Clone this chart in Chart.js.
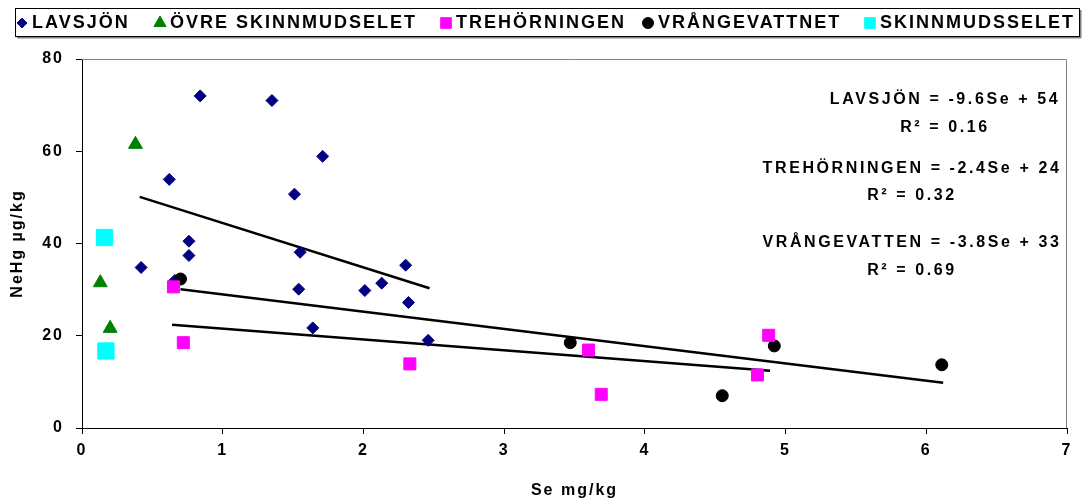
<!DOCTYPE html>
<html>
<head>
<meta charset="utf-8">
<script src="https://cdn.jsdelivr.net/npm/chart.js@4.4.1/dist/chart.umd.min.js"></script>
<style>
  html, body { margin: 0; padding: 0; background: #fff; }
  #wrap { width: 1085px; height: 498px; }
</style>
</head>
<body>
<div id="wrap"><canvas id="chart" width="1085" height="498"></canvas></div>
<script>
// series names (legend order)
const seriesNames = ["LAVSJÖN", "ÖVRE SKINNMUDSELET", "TREHÖRNINGEN", "VRÅNGEVATTNET", "SKINNMUDSSELET"];

// Se mg/kg (x) and NeHg µg/kg (y)
const lavX = [0.84, 1.35, 0.62, 1.71, 1.51, 0.76, 0.76, 1.55, 0.42, 2.30, 2.13, 1.54, 2.01, 2.32, 1.64, 2.46, 0.66];
const lavY = [72.0, 71.0, 53.9, 58.9, 50.7, 40.5, 37.4, 38.1, 34.8, 35.3, 31.4, 30.1, 29.8, 27.2, 21.7, 19.0, 32.0];
const ovreX = [0.38, 0.13, 0.20];
const ovreY = [61.5, 31.5, 21.6];
const treX = [0.65, 0.72, 2.33, 3.60, 3.69, 4.88, 4.80];
const treY = [30.6, 18.5, 13.9, 16.9, 7.3, 20.1, 11.5];
const vraX = [0.70, 3.47, 4.92, 4.55, 6.11];
const vraY = [32.3, 18.5, 17.8, 7.0, 13.7];
const skinX = [0.16, 0.17];
const skinY = [41.3, 16.7];

// trend line end points
const lavTrendX = [0.41, 2.47];
const lavTrendY = [50.1, 30.3];
const treTrendX = [0.64, 4.89];
const treTrendY = [22.4, 12.4];
const vraTrendX = [0.70, 6.12];
const vraTrendY = [30.1, 9.8];

const eqLines = ["LAVSJÖN = -9.6Se + 54", "R² = 0.16", "TREHÖRNINGEN = -2.4Se + 24", "R² = 0.32", "VRÅNGEVATTEN = -3.8Se + 33", "R² = 0.69"];

const xTicks = [0, 1, 2, 3, 4, 5, 6, 7];
const yTicks = [0, 20, 40, 60, 80];

const FONT = '"Liberation Sans", Arial, sans-serif';
const pts = (xs, ys) => xs.map((x, i) => ({ x: x, y: ys[i] }));

const colors = ["#000080", "#008000", "#FF00FF", "#000000", "#00FFFF"];
const styles = ["rectRot", "triangle", "rect", "circle", "rect"];

function trend(xs, ys) {
  return {
    data: pts(xs, ys), showLine: true, borderColor: "#000", borderWidth: 2.5,
    pointRadius: 0, fill: false, order: 10
  };
}

const textPlugin = {
  id: "texts",
  beforeDraw(chart) {
    chart.ctx.letterSpacing = "2px";
  },
  beforeDatasetsDraw(chart) {
    const ctx = chart.ctx, a = chart.chartArea;
    ctx.save();
    ctx.strokeStyle = "#808080";
    ctx.lineWidth = 1;
    ctx.beginPath();
    ctx.moveTo(a.left, a.top + 0.5);
    ctx.lineTo(a.right - 0.5, a.top + 0.5);
    ctx.lineTo(a.right - 0.5, a.bottom);
    ctx.stroke();
    ctx.restore();
  },
  afterDraw(chart) {
    const ctx = chart.ctx;
    ctx.save();
    // equations
    ctx.fillStyle = "#000";
    ctx.font = "bold 16px " + FONT;
    ctx.letterSpacing = "2.6px";
    ctx.textAlign = "center";
    ctx.textBaseline = "middle";
    const eqPos = [[945, 100], [945, 128], [912, 169], [912, 196], [912, 243], [912, 271]];
    eqLines.forEach((t, i) => ctx.fillText(t, eqPos[i][0], eqPos[i][1]));

    // legend box
    ctx.fillStyle = "#808080";
    ctx.fillRect(17, 37, 1064, 1.5);
    ctx.fillRect(1080, 10, 1.5, 28);
    ctx.strokeStyle = "#000";
    ctx.lineWidth = 1;
    ctx.strokeRect(15.5, 8.5, 1064, 28);
    ctx.font = "bold 18px " + FONT;
    ctx.letterSpacing = "2px";
    ctx.textAlign = "left";
    const mx = [22, 160, 446, 648, 870];
    const mr = [5, 7, 7.5, 5.5, 7.5];
    seriesNames.forEach((name, i) => {
      ctx.fillStyle = colors[i];
      ctx.strokeStyle = colors[i];
      Chart.helpers.drawPoint(ctx, { pointStyle: styles[i], radius: mr[i], rotation: 0, borderWidth: 1 }, mx[i], 23);
      ctx.fillStyle = "#000";
      ctx.fillText(name, mx[i] + 10, 23);
    });
    ctx.restore();
  }
};

new Chart(document.getElementById("chart"), {
  type: "scatter",
  data: {
    datasets: [
      { label: seriesNames[0], data: pts(lavX, lavY), pointStyle: "rectRot", pointRadius: 6, backgroundColor: colors[0], borderColor: colors[0], order: 3 },
      { label: seriesNames[1], data: pts(ovreX, ovreY), pointStyle: "triangle", pointRadius: 8, backgroundColor: colors[1], borderColor: colors[1], order: 2 },
      { label: seriesNames[2], data: pts(treX, treY), pointStyle: "rect", pointRadius: 8.5, backgroundColor: colors[2], borderColor: colors[2], order: 1 },
      { label: seriesNames[3], data: pts(vraX, vraY), pointStyle: "circle", pointRadius: 6, backgroundColor: colors[3], borderColor: colors[3], order: 2 },
      { label: seriesNames[4], data: pts(skinX, skinY), pointStyle: "rect", pointRadius: 11.5, backgroundColor: colors[4], borderColor: colors[4], order: 1 },
      trend(lavTrendX, lavTrendY),
      trend(treTrendX, treTrendY),
      trend(vraTrendX, vraTrendY)
    ]
  },
  options: {
    responsive: false,
    animation: false,
    devicePixelRatio: 1,
    layout: { padding: { top: 59, right: 18, left: 0, bottom: 0 } },
    plugins: { legend: { display: false }, tooltip: { enabled: false } },
    scales: {
      x: {
        type: "linear", min: 0, max: 7,
        afterBuildTicks: s => { s.ticks = xTicks.map(v => ({ value: v })); },
        afterFit: s => { s.height = 70; },
        ticks: { color: "#000", padding: 7, font: { family: FONT, size: 16, weight: "bold" } },
        grid: { drawOnChartArea: false, drawTicks: true, tickLength: 6, color: "#000" },
        border: { color: "#000", width: 1 },
        title: { display: true, text: "Se mg/kg", color: "#000", padding: { top: 0, bottom: -1 },
                 font: { family: FONT, size: 16, weight: "bold", lineHeight: 1 } }
      },
      y: {
        min: 0, max: 80,
        afterBuildTicks: s => { s.ticks = yTicks.map(v => ({ value: v })); },
        afterFit: s => { s.width = 82; },
        ticks: { color: "#000", padding: 12, font: { family: FONT, size: 16, weight: "bold" } },
        grid: { drawOnChartArea: false, drawTicks: true, tickLength: 6, color: "#000" },
        border: { color: "#000", width: 1 },
        title: { display: true, text: "NeHg µg/kg", color: "#000", padding: { top: 10, bottom: 0 },
                 font: { family: FONT, size: 16, weight: "bold", lineHeight: 1 } }
      }
    }
  },
  plugins: [textPlugin]
});
</script>
</body>
</html>
